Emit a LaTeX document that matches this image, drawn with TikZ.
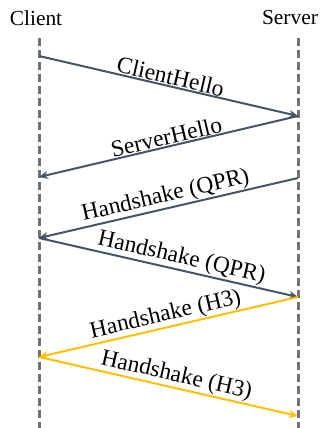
\documentclass[tikz,border=0pt]{standalone}
\usepackage{fontspec}
\setmainfont{Liberation Serif}
\usetikzlibrary{arrows.meta, positioning}
\definecolor{msgblue}{HTML}{44546A}
\definecolor{msgyellow}{HTML}{FFC000}
\definecolor{lifegray}{HTML}{767171}
\tikzset{
    party/.style={
        font=\fontsize{21.5}{26}\selectfont,
        inner sep=0pt
    },
    lifeline/.style={
        draw=lifegray,
        line width=3bp,
        dash pattern=on 8bp off 4bp
    },
    msg/.style={
        -{Stealth[length=9bp, width=8bp]},
        line width=2bp,
        draw=#1
    },
    msglabel/.style={
        midway,
        above,
        sloped,
        inner sep=0.5bp,
        font=\fontsize{23.5}{28}\selectfont
    }
}

\begin{document}
\begin{tikzpicture}[x=1bp, y=-1bp]
    \useasboundingbox (0,0) rectangle (321,428);

    \node[party] (client) at (36,18)  {Client};
    \node[party] (server) at (290,18) {Server};

    % lifelines
    \coordinate (ctop) at (39,38);
    \coordinate (cbot) at (39,428);
    \coordinate (stop) at (298,38);
    \coordinate (sbot) at (298,428);
    \draw[lifeline] (ctop) -- (cbot);
    \draw[lifeline] (stop) -- (sbot);

    % message points on each lifeline
    \coordinate (c1) at (39,56);
    \coordinate (c2) at (39,177);
    \coordinate (c3) at (39,238);
    \coordinate (c4) at (39,357);
    \coordinate (s1) at (298,116);
    \coordinate (s2) at (298,178);
    \coordinate (s3) at (298,297);
    \coordinate (s4) at (298,416);

    \draw[msg=msgblue]   (c1) -- node[msglabel] {ClientHello} (s1);
    \draw[msg=msgblue]   (s1) -- node[msglabel] {ServerHello} (c2);
    \draw[msg=msgblue]   (s2) -- node[msglabel] {Handshake (QPR)} (c3);
    \draw[msg=msgblue]   (c3) -- node[msglabel, pos=0.54] {Handshake (QPR)} (s3);
    \draw[msg=msgyellow] (s3) -- node[msglabel] {Handshake (H3)} (c4);
    \draw[msg=msgyellow] (c4) -- node[msglabel, pos=0.52] {Handshake (H3)} (s4);
\end{tikzpicture}
\end{document}
